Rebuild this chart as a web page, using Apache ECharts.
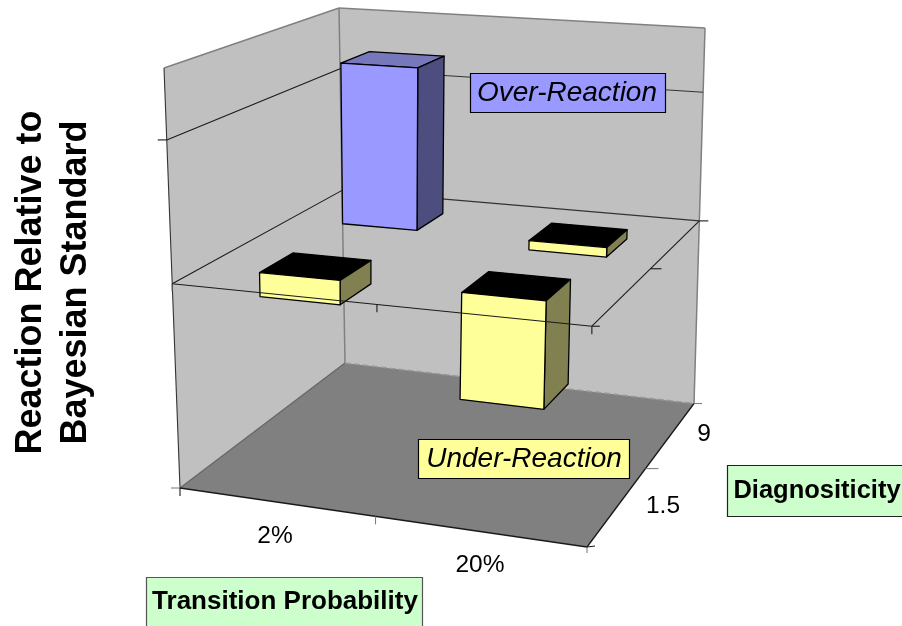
<!DOCTYPE html>
<html><head><meta charset="utf-8">
<style>html,body{margin:0;padding:0;background:#fff}#c{width:902px;height:626px}</style>
<script src="https://cdn.jsdelivr.net/npm/echarts@6/dist/echarts.min.js"></script>
</head><body><div id="c"></div>
<script>
// ---- data ----
const transitionCategories = ['2%', '20%'];
const diagnosticityCategories = ['1.5', '9'];
const reactionAt15 = [-0.17, -0.73];
const reactionAt9 = [1.24, -0.07];
const valueMin = -1.42, valueMax = 1.5;
const gridValues = [0, 1];
const axisTitleZ = ['Reaction Relative to', 'Bayesian Standard'];
const axisTitleX = 'Transition Probability';
const axisTitleY = 'Diagnositicity';
const calloutOver = 'Over-Reaction';
const calloutUnder = 'Under-Reaction';

// ---- view: where the plot box's corners land in the picture ----
const floorQuad = [[180,488],[587,547],[694,403.5],[345,363]]; // FL FR BR BL
const topQuad   = [[164,68],[597,93],[705,28],[339,8]];
const barHalfU = 0.101, barHalfV = 0.095, barShiftU = -0.004;

function homography(q){
  const [[x0,y0],[x1,y1],[x2,y2],[x3,y3]] = q;
  const sx=x0-x1+x2-x3, sy=y0-y1+y2-y3, dx1=x1-x2, dx2=x3-x2, dy1=y1-y2, dy2=y3-y2;
  const d=dx1*dy2-dx2*dy1, g=(sx*dy2-dx2*sy)/d, h=(dx1*sy-sx*dy1)/d;
  const a=x1-x0+g*x1,b=x3-x0+h*x3,c=x0,e=y1-y0+g*y1,f=y3-y0+h*y3,i=y0;
  return (u,v)=>{const w=g*u+h*v+1;return [(a*u+b*v+c)/w,(e*u+f*v+i)/w];};
}
const hFloor = homography(floorQuad), hTop = homography(topQuad);
function project(u,v,val){
  const t=(val-valueMin)/(valueMax-valueMin);
  const a=hFloor(u,v), b=hTop(u,v);
  return [a[0]+(b[0]-a[0])*t, a[1]+(b[1]-a[1])*t];
}
function P(api,u,v,val){ return api.coord(project(u,v,val)); }
function poly(pts,fill,stroke,lw){
  return {type:'polygon',shape:{points:pts},style:{fill:fill,stroke:stroke||null,lineWidth:lw||0,lineJoin:'round'}};
}
function line(a,b,color,dash,lw){
  return {type:'line',shape:{x1:a[0],y1:a[1],x2:b[0],y2:b[1]},
    style:{stroke:color,lineWidth:lw||1.1,lineDash:dash||null,fill:null}};
}
function tick(api,u,v,val,dx,dy,color){
  const p=P(api,u,v,val);
  return line(p,[p[0]+dx,p[1]+dy],color);
}
const INK='#1a1a1a', GREY='#808080';

function renderFrame(params,api){
  const c=[];
  const L=valueMin,H=valueMax;
  c.push(poly([P(api,0,0,L),P(api,0,1,L),P(api,0,1,H),P(api,0,0,H)],'#C0C0C0'));
  c.push(poly([P(api,0,1,L),P(api,1,1,L),P(api,1,1,H),P(api,0,1,H)],'#C0C0C0'));
  c.push(poly([P(api,0,0,L),P(api,1,0,L),P(api,1,1,L),P(api,0,1,L)],'#808080'));
  // wall outlines
  c.push(line(P(api,0,0,H),P(api,0,1,H),GREY,null,1.5));
  c.push(line(P(api,0,1,H),P(api,1,1,H),GREY,null,1.5));
  c.push(line(P(api,0,1,H),P(api,0,1,L),GREY,null,1.5));
  c.push(line(P(api,1,1,H),P(api,1,1,L),GREY,null,1.5));
  c.push(line(P(api,0,0,H),P(api,0,0,L),'#333'));
  c.push(line(P(api,0,0,L),P(api,0,1,L),'#666',null,1.3));
  c.push(line(P(api,0,1,L),P(api,1,1,L),'#999',[6,3],1.5));
  c.push(line(P(api,0,0,L),P(api,1,0,L),INK,null,1.3));
  c.push(line(P(api,1,0,L),P(api,1,1,L),INK,null,1.3));
  // gridlines on the walls
  gridValues.forEach(g=>{
    c.push(line(P(api,0,0,g),P(api,0,1,g),INK));
    c.push(line(P(api,0,1,g),P(api,1,1,g),'#333'));
  });
  // ticks
  c.push(tick(api,0,0,1,-9,0,INK));
  c.push(tick(api,0,0,L,-9,0,GREY));
  c.push(tick(api,0,0,L,0,8,INK));
  c.push(tick(api,0.5,0,L,0,8,GREY));
  c.push(tick(api,1,0,L,0,6,GREY));
  c.push(tick(api,1,0,L,8,-1,INK));
  c.push(tick(api,1,0.5,L,13,0,GREY));
  c.push(tick(api,1,1,L,8,0,GREY));
  return {type:'group',children:c};
}
function renderBar(params,api){
  const cu=(api.value(0)+0.5)/transitionCategories.length+barShiftU;
  const cv=(api.value(1)+0.5)/diagnosticityCategories.length;
  const val=api.value(2);
  const u0=cu-barHalfU,u1=cu+barHalfU,v0=cv-barHalfV,v1=cv+barHalfV;
  const hi=Math.max(val,0),lo=Math.min(val,0);
  const pos=val>0;
  const front=pos?'#9999FF':'#FFFF99', side=pos?'#4D4D80':'#808050', top=pos?'#7777BB':'#000000';
  return {type:'group',children:[
    poly([P(api,u0,v0,hi),P(api,u1,v0,hi),P(api,u1,v1,hi),P(api,u0,v1,hi)],top,'#000',1.3),
    poly([P(api,u1,v0,hi),P(api,u1,v1,hi),P(api,u1,v1,lo),P(api,u1,v0,lo)],side,'#000',1.3),
    poly([P(api,u0,v0,hi),P(api,u1,v0,hi),P(api,u1,v0,lo),P(api,u0,v0,lo)],front,'#000',1.3)
  ]};
}
function renderOverlay(params,api){
  return {type:'group',children:[
    line(P(api,0,0,0),P(api,1,0,0),INK),
    line(P(api,1,0,0),P(api,1,1,0),INK),
    tick(api,0,0,0,0,8,'#555'),
    tick(api,0.5,0,0,0,8,INK),
    tick(api,1,0,0,8,0,INK),
    tick(api,1,0,0,0,8,INK),
    tick(api,1,0.5,0,11,0,INK),
    tick(api,1,1,0,9,0,INK)
  ]};
}
// back row first, left to right, so nearer bars paint over farther ones
const barData=[];
[reactionAt9,reactionAt15].forEach((row,r)=>{
  row.forEach((val,i)=>barData.push([i,1-r,val]));
});

const FONT='"Liberation Sans", Arial, sans-serif';
function label(x,y,text){
  return {type:'text',x:x,y:y,z:50,style:{text:text,fill:'#000',font:'24.5px '+FONT,textAlign:'center',textVerticalAlign:'middle'}};
}
function box(x,y,w,h,fill,border){
  return {type:'rect',z:60,shape:{x:x,y:y,width:w,height:h},style:{fill:fill,stroke:border||'#000',lineWidth:1.2}};
}
function caption(x,y,text,font){
  return {type:'text',x:x,y:y,z:61,style:{text:text,fill:'#000',font:font,textAlign:'center',textVerticalAlign:'middle'}};
}
const chart=echarts.init(document.getElementById('c'),null,{renderer:'canvas'});
chart.setOption({
  animation:false,
  backgroundColor:'#fff',
  grid:{left:0,right:0,top:0,bottom:0},
  xAxis:{type:'value',min:0,max:902,show:false},
  yAxis:{type:'value',min:0,max:626,inverse:true,show:false},
  series:[
    {type:'custom',name:'frame',z:1,silent:true,data:[[0,0]],renderItem:renderFrame},
    {type:'custom',name:'reaction',z:2,silent:true,data:barData,renderItem:renderBar,
      encode:{x:0,y:1}},
    {type:'custom',name:'overlay',z:3,silent:true,data:[[0,0]],renderItem:renderOverlay}
  ],
  graphic:[
    label(275,536,transitionCategories[0]),
    label(480,565,transitionCategories[1]),
    label(663,506,diagnosticityCategories[0]),
    label(704,434,diagnosticityCategories[1]),
    {type:'text',x:31,y:282.5,rotation:Math.PI/2,z:50,style:{text:axisTitleZ[0],fill:'#000',font:'bold 36px '+FONT,textAlign:'center',textVerticalAlign:'middle'}},
    {type:'text',x:76,y:282.5,rotation:Math.PI/2,z:50,style:{text:axisTitleZ[1],fill:'#000',font:'bold 36px '+FONT,textAlign:'center',textVerticalAlign:'middle'}},
    box(470.5,73.5,195,39,'#9999FF'),
    caption(567,93.5,calloutOver,'italic 28px '+FONT),
    box(418.5,439.5,211,39,'#FFFF99'),
    caption(524,459.5,calloutUnder,'italic 28px '+FONT),
    box(146.5,577.5,276,60,'#CCFFCC','#555'),
    caption(285,602,axisTitleX,'bold 26px '+FONT),
    box(727.5,465.5,185,51,'#CCFFCC','#222'),
    caption(817,491,axisTitleY,'bold 25.5px '+FONT)
  ]
});
</script></body></html>
